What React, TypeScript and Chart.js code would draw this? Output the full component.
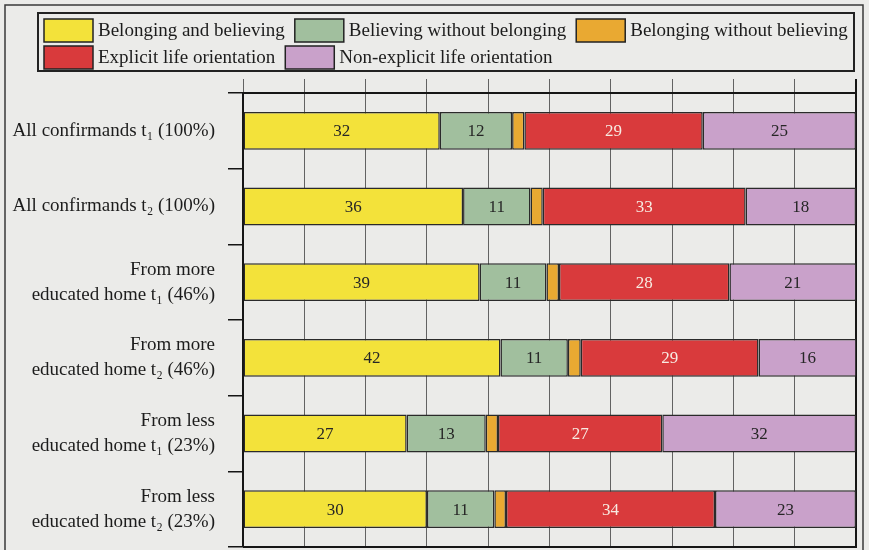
import React, { useEffect, useRef } from "react";
import { Chart, registerables } from "chart.js";

Chart.register(...registerables);

const categories: (string | string[])[] = [
  "All confirmands t₁ (100%)",
  "All confirmands t₂ (100%)",
  ["From more", "educated home t₁ (46%)"],
  ["From more", "educated home t₂ (46%)"],
  ["From less", "educated home t₁ (23%)"],
  ["From less", "educated home t₂ (23%)"],
];

const seriesNames = [
  "Belonging and believing",
  "Believing without belonging",
  "Belonging without believing",
  "Explicit life orientation",
  "Non-explicit life orientation",
];

const belongingAndBelieving = [32.1, 35.9, 38.6, 42.0, 26.7, 30.0];
const believingWithoutBelonging = [11.8, 11.0, 10.9, 11.0, 12.9, 11.0];
const belongingWithoutBelieving = [2.0, 2.0, 2.05, 2.1, 2.0, 1.9];
const explicitOrientation = [29.1, 33.1, 27.8, 29.0, 26.8, 34.1];
const nonExplicitOrientation = [25.0, 18.0, 20.7, 16.0, 31.6, 23.0];

const seriesColors = ["#f3e23a", "#a1bf9e", "#e9a932", "#d93a3c", "#c9a1ca"];
const labelColors = ["#262626", "#262626", null, "#f7ebe2", "#262626"];

const FONT = "'Liberation Serif', 'DejaVu Serif', serif";

const backgroundPlugin = {
  id: "bg",
  beforeDraw(chart: any) {
    const ctx = chart.ctx;
    ctx.save();
    ctx.fillStyle = "#ebebe9";
    ctx.fillRect(0, 0, chart.width, chart.height);
    ctx.restore();
  },
};

const framePlugin = {
  id: "frame",
  afterDraw(chart: any) {
    const ctx = chart.ctx;
    const a = chart.chartArea;
    ctx.save();
    // bottom axis line
    ctx.strokeStyle = "#151515";
    ctx.lineWidth = 2;
    ctx.beginPath();
    ctx.moveTo(a.left, a.bottom);
    ctx.lineTo(a.right + 1, a.bottom);
    ctx.stroke();
    // outer frame
    ctx.strokeStyle = "#3a3a3a";
    ctx.lineWidth = 1.5;
    ctx.beginPath();
    ctx.moveTo(5, chart.height + 5);
    ctx.lineTo(5, 5);
    ctx.lineTo(863, 5);
    ctx.lineTo(863, chart.height + 5);
    ctx.stroke();
    // legend
    ctx.lineWidth = 2;
    ctx.strokeStyle = "#222";
    ctx.strokeRect(38, 13, 816, 58);
    ctx.font = "19px " + FONT;
    ctx.textBaseline = "middle";
    ctx.textAlign = "left";
    const rows = [[0, 1, 2], [3, 4]];
    const rowY = [19, 46];
    rows.forEach((r, ri) => {
      let x = 44;
      r.forEach((i) => {
        const ds = chart.data.datasets[i];
        ctx.fillStyle = ds.backgroundColor;
        ctx.fillRect(x, rowY[ri], 49, 23);
        ctx.strokeStyle = "#222";
        ctx.lineWidth = 1.5;
        ctx.strokeRect(x, rowY[ri], 49, 23);
        ctx.fillStyle = "#1c1c1c";
        ctx.fillText(ds.label, x + 54, rowY[ri] + 12);
        x += 54 + ctx.measureText(ds.label).width + 10;
      });
    });
    ctx.restore();
  },
};

const valueLabelPlugin = {
  id: "valueLabels",
  afterDatasetsDraw(chart: any) {
    const ctx = chart.ctx;
    ctx.save();
    ctx.font = "17px " + FONT;
    ctx.textAlign = "center";
    ctx.textBaseline = "middle";
    chart.data.datasets.forEach((ds: any, di: number) => {
      const color = labelColors[di];
      if (!color) return;
      const meta = chart.getDatasetMeta(di);
      meta.data.forEach((el: any, i: number) => {
        const v = ds.data[i];
        ctx.fillStyle = color;
        ctx.fillText(String(Math.round(v)), (el.x + el.base) / 2, el.y + 1);
      });
    });
    ctx.restore();
  },
};

export default function App() {
  const ref = useRef<HTMLCanvasElement>(null);
  useEffect(() => {
    document.body.style.margin = "0";
    const seriesData = [
      belongingAndBelieving,
      believingWithoutBelonging,
      belongingWithoutBelieving,
      explicitOrientation,
      nonExplicitOrientation,
    ];
    const chart = new Chart(ref.current!, {
      type: "bar",
      data: {
        labels: categories,
        datasets: seriesData.map((d, i) => ({
          label: seriesNames[i],
          data: d,
          backgroundColor: seriesColors[i],
          borderColor: "#2a2a2a",
          borderWidth: 1.5,
          borderSkipped: false,
          barPercentage: 0.5,
          categoryPercentage: 1,
        })),
      },
      options: {
        indexAxis: "y",
        animation: false,
        responsive: false,
        maintainAspectRatio: false,
        layout: { padding: { top: 79, left: 0, right: 13, bottom: 3 } },
        plugins: {
          legend: { display: false },
          tooltip: { enabled: false },
        },
        scales: {
          x: {
            stacked: true,
            position: "top",
            min: 0,
            max: 100,
            ticks: { display: false, stepSize: 10 },
            grid: {
              color: (c: any) => (c.tick && c.tick.value === 100 ? "#151515" : "#626262"),
              lineWidth: (c: any) => (c.tick && c.tick.value === 100 ? 2 : 1),
              tickLength: 14,
            },
            border: { display: true, color: "#151515", width: 2 },
            afterFit: (s: any) => {
              s.height = 14;
              s.paddingLeft = 0;
              s.paddingRight = 0;
            },
          },
          y: {
            stacked: true,
            ticks: {
              color: "#1c1c1c",
              font: { family: FONT, size: 19, lineHeight: 1.3 },
              padding: 13,
            },
            grid: {
              drawOnChartArea: false,
              drawTicks: true,
              tickLength: 15,
              color: "#151515",
              lineWidth: 1.5,
            },
            border: { display: true, color: "#151515", width: 2 },
            afterFit: (s: any) => {
              s.width = 243;
              s.paddingTop = 0;
              s.paddingBottom = 0;
            },
          },
        },
      },
      plugins: [backgroundPlugin, valueLabelPlugin, framePlugin],
    });
    return () => chart.destroy();
  }, []);
  return (
    <div style={{ width: 869, height: 550, background: "#ebebe9" }}>
      <canvas ref={ref} width={869} height={550} style={{ display: "block" }} />
    </div>
  );
}
